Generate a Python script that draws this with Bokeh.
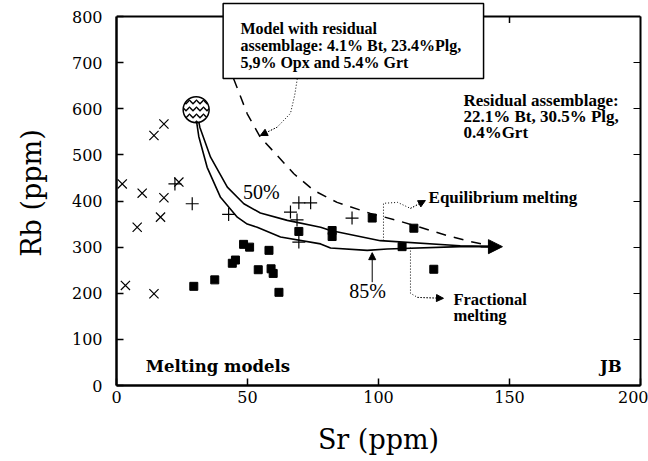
from bokeh.plotting import figure
from bokeh.models import Label, Arrow, NormalHead, Range1d, LinearAxis, FixedTicker
from bokeh.embed import file_html
from bokeh.resources import INLINE

# ---- data (Sr ppm, Rb ppm) ----
cross_sr = [2.2, 9.8, 14.3, 18.1, 18.1, 23.8, 16.8, 7.9, 3.4, 14.3]
cross_rb = [437, 417, 542, 567, 407, 441, 365, 343, 217, 199]

plus_sr = [22.3, 28.9, 42.8, 66.4, 68.9, 69.6, 74.1, 69.6, 89.9]
plus_rb = [437, 394, 371, 376, 359, 396, 396, 311, 363]

square_sr = [29.5, 37.5, 44.2, 45.4, 48.5, 50.8, 58.2, 54.1, 59.0, 59.8, 62.0,
             69.6, 82.3, 82.3, 97.6, 113.5, 109.0, 121.1]
square_rb = [215, 229, 265, 272, 306, 300, 293, 251, 253, 243, 202,
             334, 336, 323, 363, 341, 301, 252]

source_sr = [30.4]
source_rb = [598]

# equilibrium (upper) and fractional (lower) melting paths
eq_sr = [30.8, 31.8, 35.9, 42.3, 48.6, 54.9, 65.2, 77.9, 81.7, 100.7, 131.2, 144.5]
eq_rb = [590, 560, 495, 430, 394, 374, 358, 343, 336, 314, 303, 301]

fr_sr = [30.1, 31.4, 34.6, 39.7, 46.1, 49.9, 53.7, 62.6, 77.9, 81.7, 95.7, 103.3, 131.2, 144.5]
fr_rb = [590, 540, 473, 408, 365, 350, 343, 322, 307, 298, 293, 296, 301, 301]

# model with alternative residual assemblage (dashed)
dash_sr = [44.7, 49.9, 54.9, 61.3, 67.7, 75.3, 84.2, 96.9, 107.1, 115.9, 126.2, 135.0, 144.5]
dash_rb = [665, 589, 538, 499, 459, 423, 397, 373, 358, 343, 325, 312, 301]

x_ticks = [0, 50, 100, 150, 200]
y_ticks = [0, 100, 200, 300, 400, 500, 600, 700, 800]
x_max = 200
y_max = 800

SERIF = "Liberation Serif"
WIDE = "DejaVu Serif"

p = figure(width=648, height=461, x_range=Range1d(0, x_max), y_range=Range1d(0, y_max * 385 / 369),
           output_backend="svg", toolbar_location=None,
           min_border_left=116, min_border_right=8, min_border_top=0, min_border_bottom=76)
p.grid.visible = False
p.outline_line_color = None
p.background_fill_color = "white"
p.border_fill_color = "white"

for ax in (p.xaxis[0], p.yaxis[0]):
    ax.major_tick_in = 7
    ax.major_tick_out = 0
    ax.minor_tick_in = 0
    ax.minor_tick_out = 0
    ax.axis_line_width = 2.5
    ax.major_tick_line_width = 1.5
    ax.major_label_text_font = WIDE
    ax.major_label_text_font_size = "16px"
    ax.major_label_text_color = "black"
    ax.axis_label_text_font = WIDE
    ax.axis_label_text_font_size = "27px"
    ax.axis_label_text_font_style = "normal"
    ax.axis_label_text_color = "black"

p.xaxis[0].ticker = FixedTicker(ticks=x_ticks)
p.yaxis[0].ticker = FixedTicker(ticks=y_ticks)
p.yaxis[0].bounds = (0, y_max)
p.xaxis[0].axis_label = "Sr (ppm)"
p.yaxis[0].axis_label = "Rb (ppm)"
p.xaxis[0].major_label_standoff = 5
p.xaxis[0].axis_label_standoff = 18
p.yaxis[0].major_label_standoff = 14
p.yaxis[0].axis_label_standoff = 22

right = LinearAxis(ticker=FixedTicker(ticks=y_ticks), major_tick_in=7, major_tick_out=0,
                   minor_tick_in=0, minor_tick_out=0, major_label_text_font_size="0px",
                   axis_line_width=2, bounds=(0, y_max))
p.add_layout(right, "right")

# top frame line and its ticks
p.line([0, x_max], [y_max, y_max], line_color="black", line_width=2)
p.segment(x0=x_ticks[1:-1], y0=[y_max] * 3, x1=x_ticks[1:-1], y1=[y_max - 14] * 3,
          line_color="black", line_width=1.5)

# model curves
p.line(dash_sr, dash_rb, line_color="black", line_width=1.5, line_dash="10 8")
p.line(eq_sr, eq_rb, line_color="black", line_width=1.6)
p.line(fr_sr, fr_rb, line_color="black", line_width=1.6)
p.add_layout(Arrow(end=NormalHead(size=14, fill_color="black", line_color="black"),
                   x_start=139, y_start=301, x_end=147.3, y_end=301,
                   line_color="black", line_width=1.6))

# data points
p.scatter(cross_sr, cross_rb, marker="x", size=13, line_color="black", line_width=1.2)
p.scatter(plus_sr, plus_rb, marker="cross", size=13, line_color="black", line_width=1.2)
p.scatter(square_sr, square_rb, marker="square", size=8, fill_color="black", line_color="black")
p.scatter(source_sr, source_rb, marker="circle", size=26, fill_color="white",
          line_color="black", line_width=1.5, hatch_pattern="horizontal_wave",
          hatch_color="black", hatch_scale=7, hatch_weight=1.5)

# dotted leader lines
def dotted_arrow(xs, ys):
    p.line(xs, ys, line_color="black", line_width=1, line_dash="1 2")
    p.add_layout(Arrow(end=NormalHead(size=7, fill_color="black", line_color="black"),
                       x_start=xs[-2], y_start=ys[-2], x_end=xs[-1], y_end=ys[-1],
                       line_color="black", line_width=1, line_dash="1 2"))

dotted_arrow([69.0, 68.0, 66.4, 61.3, 54.9], [665, 629, 590, 560, 542])
dotted_arrow([101.9, 101.9, 107.3, 112.2, 117.9], [314, 395, 397, 384, 401])
dotted_arrow([112.2, 112.2, 114.9, 124.8], [299, 200, 191, 189])
p.add_layout(Arrow(end=NormalHead(size=7, fill_color="black", line_color="black"),
                   x_start=97.6, y_start=224, x_end=97.6, y_end=288,
                   line_color="black", line_width=1))

def txt(x, y, s, size="15px", style="normal", align="left", baseline="middle", font=SERIF):
    p.add_layout(Label(x=x, y=y, text=s, text_font=font, text_font_size=size,
                       text_font_style=style, text_align=align, text_baseline=baseline,
                       text_color="black"))

txt(55.3, 419, "50%", size="20px", align="center")
txt(95.8, 204, "85%", size="20px", align="center")
txt(119.1, 408, "Equilibrium melting", size="17px", style="bold")
txt(128.6, 186, "Fractional", size="16.5px", style="bold")
txt(128.6, 152, "melting", size="16.5px", style="bold")
txt(132.4, 618, "Residual assemblage:", size="17px", style="bold")
txt(132.4, 583, "22.1% Bt, 30.5% Plg,", size="17px", style="bold")
txt(132.4, 548, "0.4%Grt", size="17px", style="bold")
txt(11.2, 42, "Melting  models", size="16.5px", style="bold", baseline="alphabetic", font=WIDE)
txt(184.5, 42, "JB", size="16.5px", style="bold", baseline="alphabetic", font=WIDE)

# model box (crosses the top frame line)
p.quad(left=[40.7], right=[140.1], top=[828], bottom=[665.6], fill_color="white",
       line_color="black", line_width=1.5)
box_lines = ["Model with residual", "assemblage: 4.1% Bt, 23.4%Plg,", "5,9% Opx and 5.4% Grt"]
for s, yy in zip(box_lines, [774, 737.4, 700.5]):
    txt(47.3, yy, s, size="16px", style="bold", baseline="alphabetic")

open("out.html", "w").write(file_html(p, INLINE))
